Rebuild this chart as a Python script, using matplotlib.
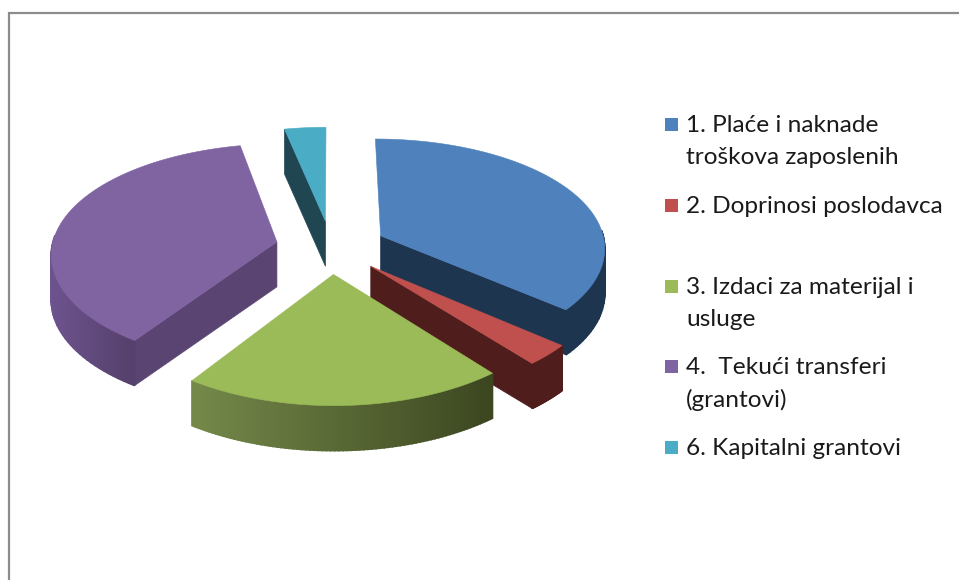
#!/usr/bin/env python3

import matplotlib
matplotlib.use("Agg")
import matplotlib.pyplot as plt
from matplotlib.colors import to_rgb
from matplotlib.patches import Polygon
import numpy as np

labels = ["1. Plaće i naknade\ntroškova zaposlenih",
          "2. Doprinosi poslodavca",
          "3. Izdaci za materijal i\nusluge",
          "4.  Tekući transferi\n(grantovi)",
          "6. Kapitalni grantovi"]
shares = [36.1, 3.0, 20.4, 37.2, 3.3]
colors = ["#4f81bd", "#c0504d", "#9bbb59", "#8064a2", "#4bacc6"]
wall_colors = ["#1e3550", "#4f1e1c", "#48562a", "#5a4472", "#1f4651"]
rim_left = ["#1e3550", "#4f1e1c", "#75894a", "#6e5490", "#1f4651"]
rim_right = ["#1e3550", "#4f1e1c", "#3c4720", "#54406a", "#1f4651"]
legend_y = [124, 205, 286, 366, 447]

# pie geometry, in pixels of the picture
CX, CY = 331, 247
RX, RY = 231, 111
PERSP = 0.12
DEPTH = 45
EXPLODE = 0.24
SQUEEZE_X, SQUEEZE_Y = 0.025, 0.01  # the front of the pie is a bit flatter than the back
LINE_GAP = 32


def project(u, v, drop=0):
    s = 1 / (1 + PERSP * np.asarray(v))
    return np.column_stack([CX + RX * np.asarray(u) * s,
                            CY - RY * np.asarray(v) * s + drop])


def quad(ax, u, v, color, z, lw=0.5):
    top = project(u, v)
    bottom = project(u, v, DEPTH)
    ax.add_patch(Polygon(np.vstack([top, bottom[::-1]]), closed=True, fc=color, ec=color,
                         lw=lw, zorder=z))


fig = plt.figure(figsize=(9.59, 5.8), dpi=100)
ax = fig.add_axes([0, 0, 1, 1])
ax.set_xlim(0, 959)
ax.set_ylim(580, 0)
ax.axis("off")

# frame, only top and left show
ax.plot([9, 9, 959], [580, 13, 13], color="#8c8c8c", lw=1.6, solid_joinstyle="miter")

edges = np.concatenate([[0], np.cumsum(shares)]) / sum(shares) * 2 * np.pi
draw_order = [4, 3, 0, 1, 2]
shade_from = {2: (193, 490), 3: (48, 137)}

for z, i in enumerate(draw_order):
    a0, a1 = edges[i], edges[i + 1]
    mid = (a0 + a1) / 2
    ou, ov = EXPLODE * np.sin(mid), EXPLODE * np.cos(mid)
    th = np.linspace(a0, a1, 80)
    u = ou + (1 - SQUEEZE_X * (1 - np.cos(th))) * np.sin(th)
    v = ov + (1 - SQUEEZE_Y * (1 - np.cos(th))) * np.cos(th)
    base = z * 10 + 1

    # radial walls, only those turned towards the viewer
    if np.cos(a0 - np.pi / 2) < 0:
        quad(ax, [ou, u[0]], [ov, v[0]], wall_colors[i], base)
    if np.cos(a1 + np.pi / 2) < 0:
        quad(ax, [ou, u[-1]], [ov, v[-1]], wall_colors[i], base)

    # outer rim in short pieces for the shading
    left, right = np.array(to_rgb(rim_left[i])), np.array(to_rgb(rim_right[i]))
    xs = project(u, v)[:, 0]
    lo, hi = shade_from.get(i, (0, 959))
    for k in range(len(th) - 1):
        if np.cos((th[k] + th[k + 1]) / 2) > 0.05:
            continue
        t = np.clip((xs[k] - lo) / (hi - lo), 0, 1)
        quad(ax, u[k:k + 2], v[k:k + 2], tuple(left + (right - left) * t), base + 1, lw=1.2)

    # top face
    outline = project(np.concatenate([[ou], u]), np.concatenate([[ov], v]))
    ax.add_patch(Polygon(outline, closed=True, fc=colors[i], ec=colors[i], lw=0.4, zorder=base + 2))

# legend
for label, color, y in zip(labels, colors, legend_y):
    ax.add_patch(Polygon([[665, y - 6.5], [678, y - 6.5], [678, y + 6.5], [665, y + 6.5]],
                         closed=True, fc=color, ec="none", zorder=100))
    for n, line in enumerate(label.split("\n")):
        ax.text(686, y + 1.5 + n * LINE_GAP, line, family="Lato", fontsize=17.6, color="#1a1a1a",
                va="center", ha="left", zorder=100)

fig.savefig("out.png", dpi=100)
